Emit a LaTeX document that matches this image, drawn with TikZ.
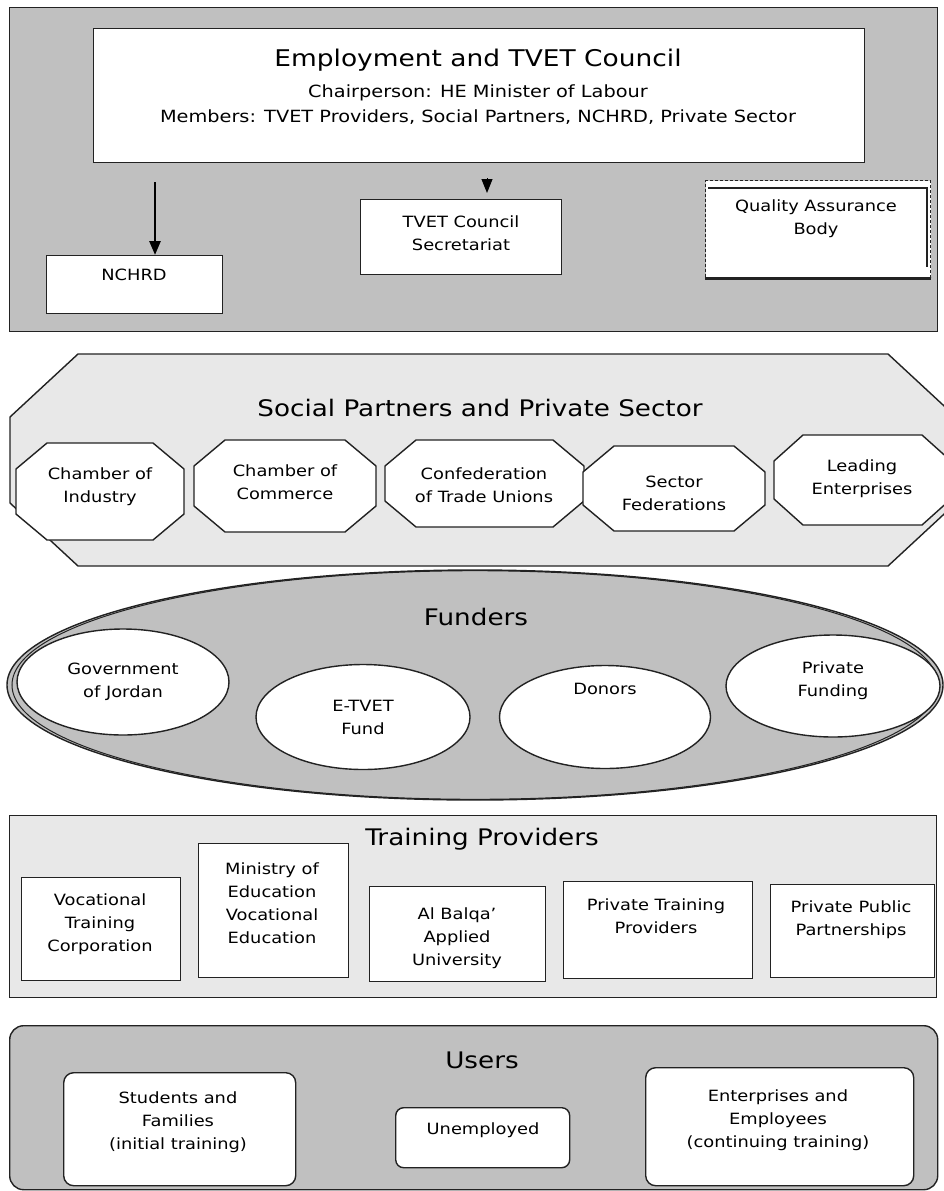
\documentclass[tikz,border=0pt]{standalone}
\usepackage{fontspec}
\setmainfont{DejaVu Sans}[FakeStretch=1.15]
\usetikzlibrary{arrows.meta,shapes.geometric}
\definecolor{gdark}{HTML}{C0C0C0}
\definecolor{glight}{HTML}{E8E8E8}
\definecolor{edgec}{HTML}{222222}
\newcommand\octagonpath[6]{% x1 y1 x2 y2 dx dy
  (#1+#5,#2) -- (#3-#5,#2) -- (#3,#2+#6) -- (#3,#4-#6) -- (#3-#5,#4) -- (#1+#5,#4) -- (#1,#4-#6) -- (#1,#2+#6) -- cycle}
\begin{document}
\begin{tikzpicture}[x=1pt,y=-1pt,
  box/.style={draw=edgec, line width=1.4pt, fill=white, inner sep=0pt, anchor=north west},
  panel/.style={draw=edgec, line width=1.4pt, inner sep=0pt, anchor=north west},
  ovalbox/.style={ellipse, draw=edgec, line width=1.4pt, fill=white, inner sep=0pt},
  octa/.style={draw=edgec, line width=1.4pt, fill=white},
  lbl/.style={font=\fontsize{15.5}{23}\selectfont, align=center, inner sep=0pt},
  sectitle/.style={font=\fontsize{22.8}{28}\selectfont, inner sep=0pt},
  subline/.style={font=\fontsize{16.8}{20}\selectfont, inner sep=0pt},
  arr/.style={draw=black, line width=2.6pt, -{Triangle[length=14pt,width=11pt]}}
]
\useasboundingbox (0,0) rectangle (944,1191);
\clip (0,0) rectangle (944,1191);
\fill[white] (0,0) rectangle (944,1191);

% ---------------- Top panel ----------------
\node[panel, fill=gdark, minimum width=928pt, minimum height=324pt] (toppanel) at (9,7) {};
\node[box, minimum width=771pt, minimum height=134pt] (council) at (93,28) {};
\node[font=\fontsize{23}{30}\selectfont, inner sep=0pt] (councilt) at (478,60) {Employment and TVET Council};
\node[subline] (chair) at (478,93) {Chairperson: HE Minister of Labour};
\node[subline] (members) at (478,117) {Members: TVET Providers, Social Partners, NCHRD, Private Sector};

\node[box, minimum width=176pt, minimum height=58pt] (nchrd) at (46,255) {};
\node[lbl] (nchrdt) at (134,275) {NCHRD};
\coordinate (a1) at (155,182);
\draw[arr] (a1) -- (a1 |- nchrd.north);

\node[box, minimum width=201pt, minimum height=75pt] (sec) at (360,199) {};
\node[lbl] (sect) at (461,233) {TVET Council\\Secretariat};
\coordinate (a2) at (487,178);
\draw[arr, line width=1pt, -{Triangle[length=14pt,width=11pt]}, shorten >=6pt] (a2) -- (a2 |- sec.north);

\node[box, dash pattern=on 3pt off 2pt, minimum width=225pt, minimum height=97pt] (qa) at (705,180) {};
\draw[edgec, line width=1.4pt] (708,188) -| (927,267);
\draw[edgec, line width=2.6pt] (qa.south west) -- (qa.south east);
\node[lbl] (qat) at (816,219) {Quality Assurance\\Body};

% ---------------- Social partners ----------------
\path[draw=edgec, line width=1.4pt, fill=glight] \octagonpath{10}{354}{956}{566}{68}{63};
\node[sectitle] (spt) at (480,408) {Social Partners and Private Sector};
\path[octa] \octagonpath{16}{443}{184}{540}{31}{26};
\node[lbl] (ci) at (100,487) {Chamber of\\Industry};
\path[octa] \octagonpath{194}{440}{376}{532}{31}{26};
\node[lbl] (cc) at (285,482) {Chamber of\\Commerce};
\path[octa] \octagonpath{385}{440}{584}{527}{31}{26};
\node[lbl] (ctu) at (484,485) {Confederation\\of Trade Unions};
\path[octa] \octagonpath{583}{446}{765}{531}{31}{26};
\node[lbl] (sf) at (674,493) {Sector\\Federations};
\path[octa] \octagonpath{774}{435}{951}{525}{29}{26};
\node[lbl] (le) at (862,479) {Leading\\Enterprises};

% ---------------- Funders ----------------
\node[ellipse, draw=edgec, line width=1.4pt, fill=gdark, minimum width=936pt, minimum height=230pt, inner sep=0pt] (funders) at (475,685) {};
\draw[edgec, line width=1pt] (funders.center) ellipse [x radius=463pt, y radius=114.3pt];
\node[sectitle] (fundt) at (476,617) {Funders};
\node[ovalbox, minimum width=212pt, minimum height=106pt] (goj) at (123,682) {};
\node[lbl] (gojt) at (123,682) {Government\\of Jordan};
\node[ovalbox, minimum width=214pt, minimum height=105pt] (etvet) at (363,717) {};
\node[lbl] (etvett) at (363,717) {E-TVET\\Fund};
\node[ovalbox, minimum width=211pt, minimum height=103pt] (donors) at (605,717) {};
\node[lbl] (donorst) at (605,689) {Donors};
\node[ovalbox, minimum width=214pt, minimum height=102pt] (privf) at (833,686) {};
\node[lbl] (privft) at (833,681) {Private\\Funding};

% ---------------- Training providers ----------------
\node[panel, fill=glight, minimum width=927pt, minimum height=182pt] (training) at (9,815) {};
\node[sectitle] (trt) at (482,839) {Training Providers};
\node[box, minimum width=159pt, minimum height=103pt] (vtc) at (21,877) {};
\node[lbl] (vtct) at (100,924) {Vocational\\Training\\Corporation};
\node[box, minimum width=150pt, minimum height=134pt] (moe) at (198,843) {};
\node[lbl] (moet) at (272,903) {Ministry of\\Education\\Vocational\\Education};
\node[box, minimum width=176pt, minimum height=95pt] (bau) at (369,886) {};
\node[lbl] (baut) at (457,938) {Al Balqa'\\Applied\\University};
\node[box, minimum width=189pt, minimum height=97pt] (ptp) at (563,881) {};
\node[lbl] (ptpt) at (656,916) {Private Training\\Providers};
\node[box, minimum width=164pt, minimum height=93pt] (ppp) at (770,884) {};
\node[lbl] (pppt) at (851,920) {Private Public\\Partnerships};

% ---------------- Users ----------------
\node[panel, fill=gdark, rounded corners=14pt, minimum width=928pt, minimum height=164pt] (users) at (9,1025) {};
\node[sectitle] (ust) at (482,1060) {Users};
\node[box, rounded corners=10pt, minimum width=232pt, minimum height=113pt] (stud) at (63,1072) {};
\node[lbl] (studt) at (178,1122) {Students and\\Families\\(initial training)};
\node[box, rounded corners=8pt, minimum width=174pt, minimum height=60pt] (unemp) at (395,1107) {};
\node[lbl] (unempt) at (483,1130) {Unemployed};
\node[box, rounded corners=10pt, minimum width=268pt, minimum height=118pt] (entr) at (645,1067) {};
\node[lbl] (entrt) at (778,1120) {Enterprises and\\Employees\\(continuing training)};
\end{tikzpicture}
\end{document}
